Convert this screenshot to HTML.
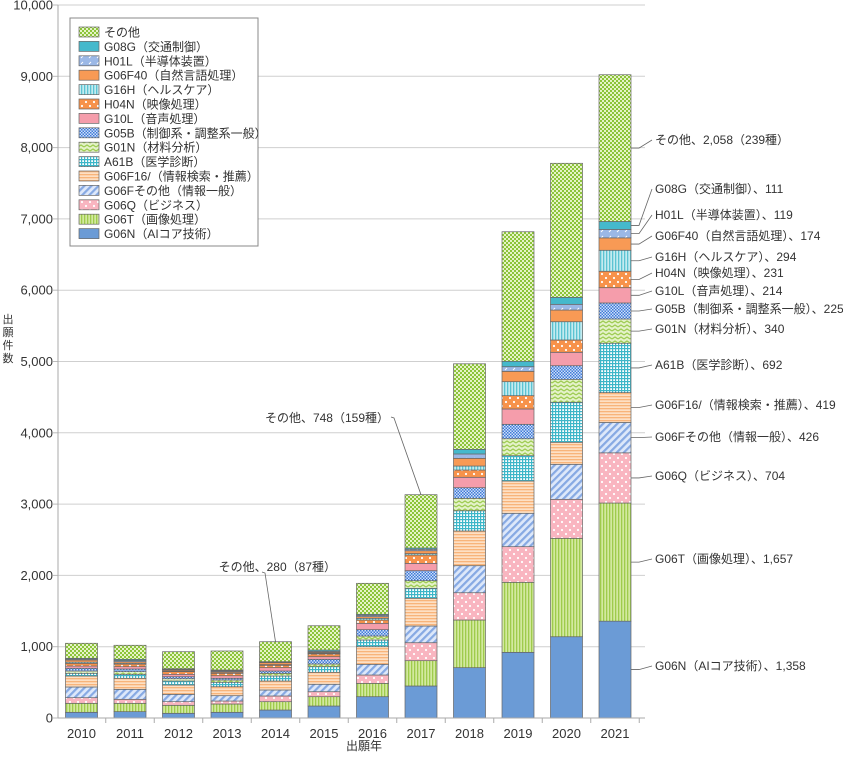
<!DOCTYPE html>
<html><head><meta charset="utf-8"><style>
body{margin:0;background:#fff;}
svg text{font-family:"Liberation Sans","Noto Sans CJK JP",sans-serif;fill:#333;}
</style></head><body>
<svg id="chart" width="843" height="754" viewBox="0 0 843 754" xmlns="http://www.w3.org/2000/svg">
<defs>
<pattern id="p0" width="4" height="4" patternUnits="userSpaceOnUse"><rect width="4" height="4" fill="#6b9bd6"/></pattern>
<pattern id="p1" width="3" height="4" patternUnits="userSpaceOnUse"><rect width="3" height="4" fill="#d3e9a0"/><rect width="1.3" height="4" fill="#9fcb4c"/></pattern>
<pattern id="p2" width="8" height="8" patternUnits="userSpaceOnUse"><rect width="8" height="8" fill="#f9b5c0"/><circle cx="2" cy="2" r="1.1" fill="#fff"/><circle cx="6" cy="6" r="1.1" fill="#fff"/></pattern>
<pattern id="p3" width="5" height="5" patternUnits="userSpaceOnUse" patternTransform="rotate(45)"><rect width="5" height="5" fill="#dde8fa"/><rect width="2.2" height="5" fill="#86a9e3"/></pattern>
<pattern id="p4" width="4" height="3" patternUnits="userSpaceOnUse"><rect width="4" height="3" fill="#fde0c4"/><rect width="4" height="1.3" fill="#f8b47a"/></pattern>
<pattern id="p5" width="3" height="3" patternUnits="userSpaceOnUse"><rect width="3" height="3" fill="#fff"/><rect width="3" height="1.2" fill="#3cb6c8"/><rect width="1.2" height="3" fill="#3cb6c8"/></pattern>
<pattern id="p6" width="6" height="4" patternUnits="userSpaceOnUse"><rect width="6" height="4" fill="#e4f2c8"/><path d="M0 3 L3 1 L6 3" stroke="#9ccb4f" stroke-width="1.2" fill="none"/></pattern>
<pattern id="p7" width="3" height="3" patternUnits="userSpaceOnUse"><rect width="3" height="3" fill="#cfe0fa"/><rect width="1.5" height="1.5" fill="#3f7ad6"/><rect x="1.5" y="1.5" width="1.5" height="1.5" fill="#3f7ad6"/></pattern>
<pattern id="p8" width="4" height="4" patternUnits="userSpaceOnUse"><rect width="4" height="4" fill="#f59dab"/></pattern>
<pattern id="p9" width="8" height="8" patternUnits="userSpaceOnUse"><rect width="8" height="8" fill="#f7924a"/><circle cx="2" cy="2" r="1.1" fill="#fff"/><circle cx="6" cy="6" r="1.1" fill="#fff"/></pattern>
<pattern id="p10" width="3" height="4" patternUnits="userSpaceOnUse"><rect width="3" height="4" fill="#c4ebf0"/><rect width="1.3" height="4" fill="#5cc3d2"/></pattern>
<pattern id="p11" width="4" height="4" patternUnits="userSpaceOnUse"><rect width="4" height="4" fill="#f89a55"/></pattern>
<pattern id="p12" width="8" height="6" patternUnits="userSpaceOnUse"><rect width="8" height="6" fill="#9bb8e6"/><path d="M1 4 L3 2" stroke="#fff" stroke-width="1"/></pattern>
<pattern id="p13" width="4" height="4" patternUnits="userSpaceOnUse"><rect width="4" height="4" fill="#45b9cc"/></pattern>
<pattern id="p14" width="4" height="4" patternUnits="userSpaceOnUse"><rect width="4" height="4" fill="#e6f3c8"/><rect width="2" height="2" fill="#8cc43a"/><rect x="2" y="2" width="2" height="2" fill="#8cc43a"/></pattern>
</defs>
<g id="grid"></g><g id="bars"></g><g id="axes"></g><g id="legend"></g><g id="ann"></g>
</svg>
<script>
const years=["2010","2011","2012","2013","2014","2015","2016","2017","2018","2019","2020","2021"];
const seriesNames=["G06N（AIコア技術）","G06T（画像処理）","G06Q（ビジネス）","G06Fその他（情報一般）","G06F16/（情報検索・推薦）","A61B（医学診断）","G01N（材料分析）","G05B（制御系・調整系一般）","G10L（音声処理）","H04N（映像処理）","G16H（ヘルスケア）","G06F40（自然言語処理）","H01L（半導体装置）","G08G（交通制御）","その他"];
const G06N=[80,89,66,80,112,168,299,449,706,921,1140,1358];
const G06T=[126,117,112,116,117,131,187,355,668,982,1380,1657];
const G06Q=[79,56,51,42,80,70,117,252,383,500,547,704];
const G06Fo=[150,140,103,75,84,104,150,234,379,468,491,426];
const G06F16=[154,155,131,126,126,168,247,389,487,453,309,419];
const A61B=[38,56,56,62,70,79,94,140,284,355,561,692];
const G01N=[32,37,32,32,38,37,56,107,174,238,322,340];
const G05B=[38,37,28,24,32,66,89,140,149,202,191,225];
const G10L=[32,33,34,36,47,37,89,103,146,215,188,214];
const H04N=[38,37,37,34,33,38,46,117,102,187,173,231];
const G16H=[16,12,8,8,10,10,24,20,56,196,256,294];
const G06F40=[30,21,15,15,27,13,23,40,108,145,164,174];
const H01L=[12,16,9,12,7,13,19,20,61,65,80,119];
const G08G=[12,17,9,11,7,19,14,18,65,76,98,111];
const other=[211,197,239,267,280,341,435,748,1200,1817,1880,2058];
const series=[G06N,G06T,G06Q,G06Fo,G06F16,A61B,G01N,G05B,G10L,H04N,G16H,G06F40,H01L,G08G,other];
const yTicks=[0,1000,2000,3000,4000,5000,6000,7000,8000,9000,10000];
const yTickLabels=["0","1,000","2,000","3,000","4,000","5,000","6,000","7,000","8,000","9,000","10,000"];
const lastLabels=["G06N（AIコア技術）、1,358","G06T（画像処理）、1,657","G06Q（ビジネス）、704","G06Fその他（情報一般）、426","G06F16/（情報検索・推薦）、419","A61B（医学診断）、692","G01N（材料分析）、340","G05B（制御系・調整系一般）、225","G10L（音声処理）、214","H04N（映像処理）、231","G16H（ヘルスケア）、294","G06F40（自然言語処理）、174","H01L（半導体装置）、119","G08G（交通制御）、111","その他、2,058（239種）"];
const lastLabelY=[670,563,480,441,409,369,333,313,295,277,261,240,219,193,144];

const NS="http://www.w3.org/2000/svg";
const y0=718,yTop=5,yMax=10000,x0=58,x1=645;
const yS=v=>y0-(y0-yTop)*v/yMax;
const xC=i=>81.5+i*48.5;
const bw=32;
function mk(t,a,p){const e=document.createElementNS(NS,t);for(const k in a)e.setAttribute(k,a[k]);p.appendChild(e);return e;}
const grid=document.getElementById('grid'),bars=document.getElementById('bars'),axes=document.getElementById('axes'),leg=document.getElementById('legend'),ann=document.getElementById('ann');
yTicks.forEach((t,i)=>{
  if(t>0){const g=mk('line',{x1:x0,x2:x1,y1:yS(t),y2:yS(t),stroke:'#cfcfcf','stroke-width':1},grid);
  
  }
  const tk=mk('line',{x1:x0-5,x2:x0,y1:yS(t),y2:yS(t),stroke:'#bbb'},axes);
  
  
  const tx=mk('text',{x:x0-5,y:yS(t)+4.5,'text-anchor':'end','font-size':13},axes);tx.textContent=yTickLabels[i];
  
  
});
let ya=mk('line',{x1:x0,x2:x0,y1:yTop,y2:y0,stroke:'#aaa'},axes);


let xa=mk('line',{x1:x0,x2:x1,y1:y0,y2:y0,stroke:'#aaa'},axes);


years.forEach((yr,i)=>{
  const tk=mk('line',{x1:xC(i)+24.25,x2:xC(i)+24.25,y1:y0,y2:y0+5,stroke:'#aaa'},axes);
  
  
  const tx=mk('text',{x:xC(i),y:y0+20,'text-anchor':'middle','font-size':13},axes);tx.textContent=yr;
  
  
  let cum=0;
  series.forEach((s,k)=>{
    const v=s[i];const ya_=yS(cum+v),yb=yS(cum);cum+=v;
    const r=mk('rect',{x:xC(i)-bw/2,y:ya_,width:bw,height:Math.max(0,yb-ya_),fill:'url(#p'+k+')',stroke:'#666','stroke-width':0.7},bars);
    
    
  });
});
let xt=mk('text',{x:364,y:750,'text-anchor':'middle','font-size':12},axes);xt.textContent='出願年';


["出","願","件","数"].forEach((c,i)=>{const t=mk('text',{x:8,y:323+i*13,'text-anchor':'middle','font-size':11},axes);t.textContent=c;

});
// legend
let lb=mk('rect',{x:70,y:18,width:188,height:228,fill:'#fff',stroke:'#888'},leg);


for(let k=14;k>=0;k--){
  const row=14-k;const ly=32+row*14.4;
  const sw=mk('rect',{x:79,y:ly-5,width:20,height:10,fill:'url(#p'+k+')',stroke:'#666','stroke-width':0.7},leg);
  
  
  const t=mk('text',{x:104,y:ly+4.5,'font-size':12},leg);t.textContent=seriesNames[k];
  
  
}
// annotations for 2021
let cum=0;const li=11;
series.forEach((s,k)=>{
  const v=s[li];const mid=yS(cum+v/2);cum+=v;
  const ly=lastLabelY[k];
  const p=mk('polyline',{points:(xC(li)+bw/2)+','+mid+' '+(xC(li)+bw/2+8)+','+mid+' 652,'+(ly-4),fill:'none',stroke:'#666','stroke-width':0.8},ann);
  
  
  const t=mk('text',{x:655,y:ly,'font-size':12},ann);t.textContent=lastLabels[k];
  
  
});
function note(i,label,tx,ty,lx,ly){
  let tot=0;series.forEach(s=>tot+=s[i]);
  const p=mk('polyline',{points:lx+','+ly+' '+(lx+3)+','+(ly+1)+' '+xC(i)+','+yS(tot),fill:'none',stroke:'#666','stroke-width':0.8},ann);
  
  
  const t=mk('text',{x:tx,y:ty,'font-size':12,'text-anchor':'end'},ann);t.textContent=label;
  
  
}
note(7,"その他、748（159種）",389,422,391,417);
note(4,"その他、280（87種）",336,571,262,572);
</script>
</body></html>
